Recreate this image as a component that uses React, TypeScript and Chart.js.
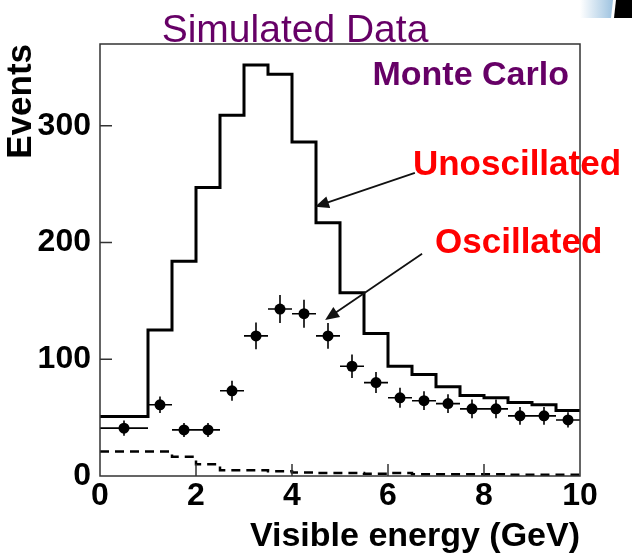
import React, { useEffect, useRef } from 'react';
import { Chart, registerables } from 'chart.js';

Chart.register(...registerables);

// ---- data ----
const binEdges = [0, 1, 1.5, 2, 2.5, 3, 3.5, 4, 4.5, 5, 5.5, 6, 6.5, 7, 7.5, 8, 8.5, 9, 9.5, 10];
const unoscillated = [51, 125, 184, 247, 309, 352, 344, 286, 217, 157, 122, 94, 87, 76.5, 69, 67, 63, 61, 56];
const background = [21, 21, 16.5, 10, 5, 5, 4, 3, 2.5, 2.5, 2, 2.5, 1.5, 1.5, 1.5, 1.5, 1, 1, 1];
const dataX = [0.5, 1.25, 1.75, 2.25, 2.75, 3.25, 3.75, 4.25, 4.75, 5.25, 5.75, 6.25, 6.75, 7.25, 7.75, 8.25, 8.75, 9.25, 9.75];
const oscillated = [41, 61, 39.5, 39.5, 73, 120, 143, 139, 120, 94, 80, 67, 64.5, 62, 57.5, 57.5, 51.5, 51.5, 48];
const oscErr = [6.5, 7, 6, 6, 8.5, 11.5, 12, 12, 11, 10, 9, 8.5, 8, 8, 8, 8, 7.5, 7.5, 6.5];
const xTicks = [0, 2, 4, 6, 8, 10];
const xTickLabels = ['0', '2', '4', '6', '8', '10'];
const yTicks = [0, 100, 200, 300];
const yTickLabels = ['0', '100', '200', '300'];

const FONT = '"Liberation Sans", Arial, Helvetica, sans-serif';
const PURPLE = '#660066';
const RED = '#ff0000';

const stepPoints = (vals: number[]) =>
  binEdges.map((e, i) => ({ x: e, y: vals[Math.min(i, vals.length - 1)] }));

function drawArrow(ctx: CanvasRenderingContext2D, x1: number, y1: number, x2: number, y2: number) {
  const ang = Math.atan2(y2 - y1, x2 - x1);
  const len = 14;
  const w = 6;
  ctx.save();
  ctx.strokeStyle = '#111';
  ctx.fillStyle = '#111';
  ctx.lineWidth = 1.8;
  ctx.beginPath();
  ctx.moveTo(x1, y1);
  ctx.lineTo(x2 - Math.cos(ang) * len * 0.8, y2 - Math.sin(ang) * len * 0.8);
  ctx.stroke();
  ctx.beginPath();
  ctx.moveTo(x2, y2);
  ctx.lineTo(x2 - Math.cos(ang) * len - Math.sin(ang) * w, y2 - Math.sin(ang) * len + Math.cos(ang) * w);
  ctx.lineTo(x2 - Math.cos(ang) * len + Math.sin(ang) * w, y2 - Math.sin(ang) * len - Math.cos(ang) * w);
  ctx.closePath();
  ctx.fill();
  ctx.restore();
}

const overlay = {
  id: 'overlay',
  beforeDatasetsDraw(chart: any) {
    const { ctx, scales } = chart;
    const xs = scales.x;
    const ys = scales.y;
    ctx.save();
    ctx.strokeStyle = '#000';
    ctx.lineWidth = 1.6;
    dataX.forEach((x, i) => {
      const half = (binEdges[i + 1] - binEdges[i]) / 2;
      const px = xs.getPixelForValue(x);
      const py = ys.getPixelForValue(oscillated[i]);
      ctx.beginPath();
      ctx.moveTo(xs.getPixelForValue(x - half), py);
      ctx.lineTo(xs.getPixelForValue(x + half), py);
      ctx.moveTo(px, ys.getPixelForValue(oscillated[i] - oscErr[i]));
      ctx.lineTo(px, ys.getPixelForValue(oscillated[i] + oscErr[i]));
      ctx.stroke();
    });
    ctx.restore();
  },
  afterDraw(chart: any) {
    const { ctx, chartArea, scales } = chart;
    const xs = scales.x;
    const ys = scales.y;
    const { left, right, top, bottom } = chartArea;
    ctx.save();
    // frame
    ctx.strokeStyle = '#333';
    ctx.lineWidth = 1.5;
    ctx.strokeRect(left, top, right - left, bottom - top);
    // inner ticks
    ctx.beginPath();
    xTicks.slice(1, -1).forEach((v) => {
      const px = xs.getPixelForValue(v);
      ctx.moveTo(px, bottom);
      ctx.lineTo(px, bottom - 12);
    });
    yTicks.slice(1).forEach((v) => {
      const py = ys.getPixelForValue(v);
      ctx.moveTo(left, py);
      ctx.lineTo(left + 12, py);
    });
    ctx.stroke();

    // arrows (data coordinates)
    drawArrow(ctx, xs.getPixelForValue(6.56), ys.getPixelForValue(259.7), xs.getPixelForValue(4.48), ys.getPixelForValue(230.6));
    drawArrow(ctx, xs.getPixelForValue(6.71), ys.getPixelForValue(190.3), xs.getPixelForValue(4.69), ys.getPixelForValue(133.7));

    // texts
    ctx.textBaseline = 'alphabetic';
    ctx.fillStyle = PURPLE;
    ctx.font = `39px ${FONT}`;
    ctx.textAlign = 'center';
    ctx.fillText('Simulated Data', 295, 42);
    ctx.font = `bold 34px ${FONT}`;
    ctx.textAlign = 'right';
    ctx.fillText('Monte Carlo', xs.getPixelForValue(9.77), ys.getPixelForValue(335));
    ctx.fillStyle = RED;
    ctx.font = `bold 35px ${FONT}`;
    ctx.textAlign = 'left';
    ctx.fillText('Unoscillated', xs.getPixelForValue(6.52), ys.getPixelForValue(258));
    ctx.fillText('Oscillated', xs.getPixelForValue(6.98), ys.getPixelForValue(191));

    // corner decoration
    const g = ctx.createLinearGradient(580, 0, 613, 0);
    g.addColorStop(0, 'rgba(255,255,255,1)');
    g.addColorStop(1, '#9ec3e0');
    ctx.fillStyle = g;
    ctx.beginPath();
    ctx.moveTo(580, 0);
    ctx.lineTo(613, 0);
    ctx.lineTo(611, 18);
    ctx.lineTo(580, 18);
    ctx.closePath();
    ctx.fill();
    ctx.fillStyle = '#000';
    ctx.beginPath();
    ctx.moveTo(616, 0);
    ctx.lineTo(632, 0);
    ctx.lineTo(632, 18);
    ctx.lineTo(614, 18);
    ctx.closePath();
    ctx.fill();
    ctx.restore();
  },
};

export default function App() {
  const ref = useRef<HTMLCanvasElement | null>(null);
  useEffect(() => {
    if (!ref.current) return;
    const chart = new Chart(ref.current, {
      type: 'line',
      data: {
        datasets: [
          {
            label: 'Unoscillated',
            data: stepPoints(unoscillated),
            stepped: 'before',
            borderColor: '#000',
            borderWidth: 3,
            pointRadius: 0,
            fill: false,
          },
          {
            label: 'Background',
            data: stepPoints(background),
            stepped: 'before',
            borderColor: '#000',
            borderWidth: 2.5,
            borderDash: [9, 6],
            pointRadius: 0,
            fill: false,
          },
          {
            label: 'Oscillated',
            data: dataX.map((x, i) => ({ x, y: oscillated[i] })),
            showLine: false,
            pointRadius: 5.5,
            pointBackgroundColor: '#000',
            pointBorderColor: '#000',
            borderWidth: 0,
          },
        ],
      },
      options: {
        responsive: false,
        animation: false,
        devicePixelRatio: 1,
        layout: { padding: { top: 44, right: 52, left: 0, bottom: 0 } },
        plugins: { legend: { display: false }, title: { display: false }, tooltip: { enabled: false } },
        scales: {
          x: {
            type: 'linear',
            min: 0,
            max: 10,
            grid: { display: false, drawTicks: false },
            border: { display: false },
            afterFit: (s: any) => { s.height = 81; },
            afterBuildTicks: (s: any) => { s.ticks = xTicks.map((v) => ({ value: v })); },
            ticks: {
              autoSkip: false,
              maxRotation: 0,
              padding: 1,
              color: '#000',
              font: { family: FONT, size: 32, weight: 'bold' },
              callback: (_v: any, i: number) => xTickLabels[i],
            },
            title: {
              display: true,
              text: 'Visible energy (GeV)',
              align: 'end',
              color: '#000',
              padding: 0,
              font: { family: FONT, size: 34, weight: 'bold' },
            },
          },
          y: {
            type: 'linear',
            min: 0,
            max: 370,
            grid: { display: false, drawTicks: false },
            border: { display: false },
            afterFit: (s: any) => { s.width = 100; },
            afterBuildTicks: (s: any) => { s.ticks = yTicks.map((v) => ({ value: v })); },
            ticks: {
              autoSkip: false,
              padding: 9,
              color: '#000',
              font: { family: FONT, size: 32, weight: 'bold' },
              callback: (_v: any, i: number) => yTickLabels[i],
            },
            title: {
              display: true,
              text: 'Events',
              align: 'end',
              color: '#000',
              padding: 0,
              font: { family: FONT, size: 35, weight: 'bold' },
            },
          },
        },
      },
      plugins: [overlay],
    } as any);
    return () => chart.destroy();
  }, []);
  return (
    <div style={{ position: 'absolute', left: 0, top: 0, width: 632, height: 557, background: '#fff' }}>
      <canvas ref={ref} width={632} height={557} style={{ width: 632, height: 557, display: 'block' }} />
    </div>
  );
}
